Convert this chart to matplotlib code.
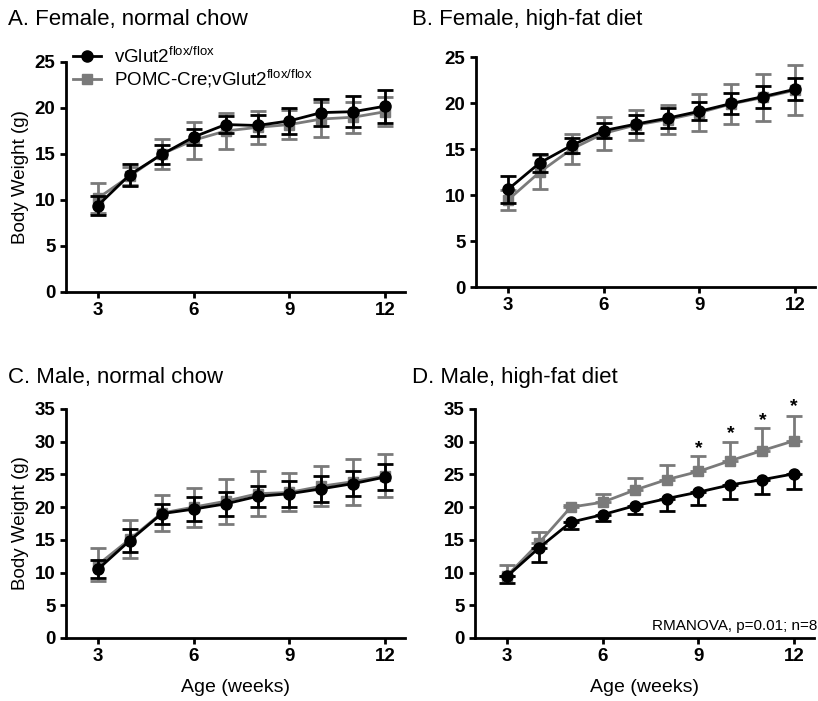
import numpy as np
import matplotlib
matplotlib.use('Agg')
import matplotlib.pyplot as plt
from matplotlib.lines import Line2D

plt.rcParams['font.family'] = ['Liberation Sans', 'DejaVu Sans']
plt.rcParams['mathtext.fontset'] = 'custom'
plt.rcParams['mathtext.rm'] = 'Liberation Sans'

# === data ===
weeks = [3, 4, 5, 6, 7, 8, 9, 10, 11, 12]

# A. Female, normal chow
a_ctrl = [9.4, 12.75, 14.95, 16.85, 18.2, 18.1, 18.6, 19.5, 19.6, 20.2]
a_ctrl_err = [1.0, 1.2, 1.0, 0.9, 0.9, 1.1, 1.4, 1.5, 1.7, 1.8]
a_ko = [10.2, 12.6, 15.0, 16.5, 17.5, 17.9, 18.2, 18.8, 19.0, 19.6]
a_ko_err = [1.6, 1.0, 1.6, 2.0, 2.0, 1.8, 1.6, 1.9, 1.7, 1.6]

# B. Female, high-fat diet
b_ctrl = [10.6, 13.5, 15.4, 17.0, 17.7, 18.35, 19.1, 19.95, 20.7, 21.5]
b_ctrl_err = [1.5, 1.0, 0.8, 0.8, 1.0, 1.1, 1.0, 1.1, 1.2, 1.2]
b_ko = [9.45, 12.5, 15.0, 16.7, 17.6, 18.2, 18.95, 19.9, 20.6, 21.4]
b_ko_err = [1.1, 1.9, 1.6, 1.8, 1.6, 1.6, 2.0, 2.2, 2.6, 2.7]

# C. Male, normal chow
c_ctrl = [10.5, 14.9, 19.0, 19.7, 20.5, 21.65, 22.05, 22.8, 23.6, 24.6]
c_ctrl_err = [1.4, 1.7, 1.5, 1.8, 1.8, 1.6, 2.0, 2.0, 1.9, 2.0]
c_ko = [11.2, 15.1, 19.1, 20.0, 20.9, 22.05, 22.25, 23.2, 23.9, 24.8]
c_ko_err = [2.5, 2.9, 2.7, 3.0, 3.4, 3.4, 2.9, 3.1, 3.5, 3.3]

# D. Male, high-fat diet (one-sided error bars)
d_ctrl = [9.4, 13.75, 17.7, 18.85, 20.2, 21.3, 22.3, 23.4, 24.2, 25.1]
d_ctrl_err = [1.0, 2.1, 1.1, 0.9, 1.3, 1.9, 2.0, 2.1, 2.2, 2.3]
d_ko = [9.5, 14.5, 20.0, 20.75, 22.6, 24.2, 25.45, 27.1, 28.65, 30.15]
d_ko_err = [1.6, 1.7, 0.4, 1.3, 1.8, 2.3, 2.4, 2.9, 3.45, 3.85]
star_weeks = [9, 10, 11, 12]
star_y = [29.0, 31.2, 33.2, 35.3]

GRAY = '#7a7a7a'
W, H = 818, 701
LAB_CTRL = r'vGlut2$^{\mathrm{flox/flox}}$'
LAB_KO = r'POMC-Cre;vGlut2$^{\mathrm{flox/flox}}$'

fig = plt.figure(figsize=(W / 100, H / 100), dpi=100)


def make_ax(left, top, right, bottom):
    return fig.add_axes([left / W, 1 - bottom / H, (right - left) / W, (bottom - top) / H])


def draw(ax, ctrl, ctrl_err, ko, ko_err, ymax, one_sided=False):
    w = np.array(weeks)
    if one_sided:
        ko_yerr = [np.zeros(len(ko)), ko_err]
        ctrl_yerr = [ctrl_err, np.zeros(len(ctrl))]
    else:
        ko_yerr = ko_err
        ctrl_yerr = ctrl_err
    ax.errorbar(w, ko, yerr=ko_yerr, color=GRAY, marker='s', markersize=7,
                linewidth=2, elinewidth=2, capsize=5.5, capthick=2, clip_on=False,
                zorder=3)
    ax.errorbar(w, ctrl, yerr=ctrl_yerr, color='black', marker='o', markersize=8,
                linewidth=2, elinewidth=2, capsize=5.5, capthick=2, clip_on=False,
                zorder=4)
    ax.set_xlim(2, 12.62)
    ax.set_ylim(0, ymax)
    ax.set_xticks([3, 6, 9, 12])
    ax.set_yticks(np.arange(0, ymax + 1, 5))
    for s in ['top', 'right']:
        ax.spines[s].set_visible(False)
    for s in ['left', 'bottom']:
        ax.spines[s].set_linewidth(2)
    ax.tick_params(width=2, length=4.5, labelsize=13.5, pad=3)
    for lab in ax.get_xticklabels() + ax.get_yticklabels():
        lab.set_fontweight('bold')


axA = make_ax(66, 62, 405, 292)
draw(axA, a_ctrl, a_ctrl_err, a_ko, a_ko_err, 25)
axA.set_ylabel('Body Weight (g)', fontsize=13.5)
handles = [Line2D([], [], color='black', marker='o', markersize=8, linewidth=2),
           Line2D([], [], color=GRAY, marker='s', markersize=7, linewidth=2)]
axA.legend(handles, [LAB_CTRL, LAB_KO], loc='upper left', bbox_to_anchor=(0.02, 1.07),
           frameon=False, fontsize=13.5, handlelength=1.5, handletextpad=0.7,
           labelspacing=0.05, borderaxespad=0, borderpad=0)

axB = make_ax(476, 57, 815, 287)
draw(axB, b_ctrl, b_ctrl_err, b_ko, b_ko_err, 25)

axC = make_ax(66, 409, 405, 638)
draw(axC, c_ctrl, c_ctrl_err, c_ko, c_ko_err, 35)
axC.set_ylabel('Body Weight (g)', fontsize=13.5)
axC.set_xlabel('Age (weeks)', fontsize=14, labelpad=10)

axD = make_ax(475, 409, 814, 638)
draw(axD, d_ctrl, d_ctrl_err, d_ko, d_ko_err, 35, one_sided=True)
axD.set_xlabel('Age (weeks)', fontsize=14, labelpad=10)
for wk, sy in zip(star_weeks, star_y):
    axD.text(wk, sy, '*', ha='center', va='center', fontsize=14, fontweight='bold')
fig.text(817 / W, 1 - 633 / H, 'RMANOVA, p=0.01; n=8', fontsize=11,
         ha='right', va='bottom')

fig.text(8 / W, 1 - 20 / H, 'A. Female, normal chow', fontsize=16, va='center')
fig.text(412 / W, 1 - 20 / H, 'B. Female, high-fat diet', fontsize=16, va='center')
fig.text(8 / W, 1 - 377 / H, 'C. Male, normal chow', fontsize=16, va='center')
fig.text(412 / W, 1 - 377 / H, 'D. Male, high-fat diet', fontsize=16, va='center')

fig.savefig('out.png', dpi=100)
